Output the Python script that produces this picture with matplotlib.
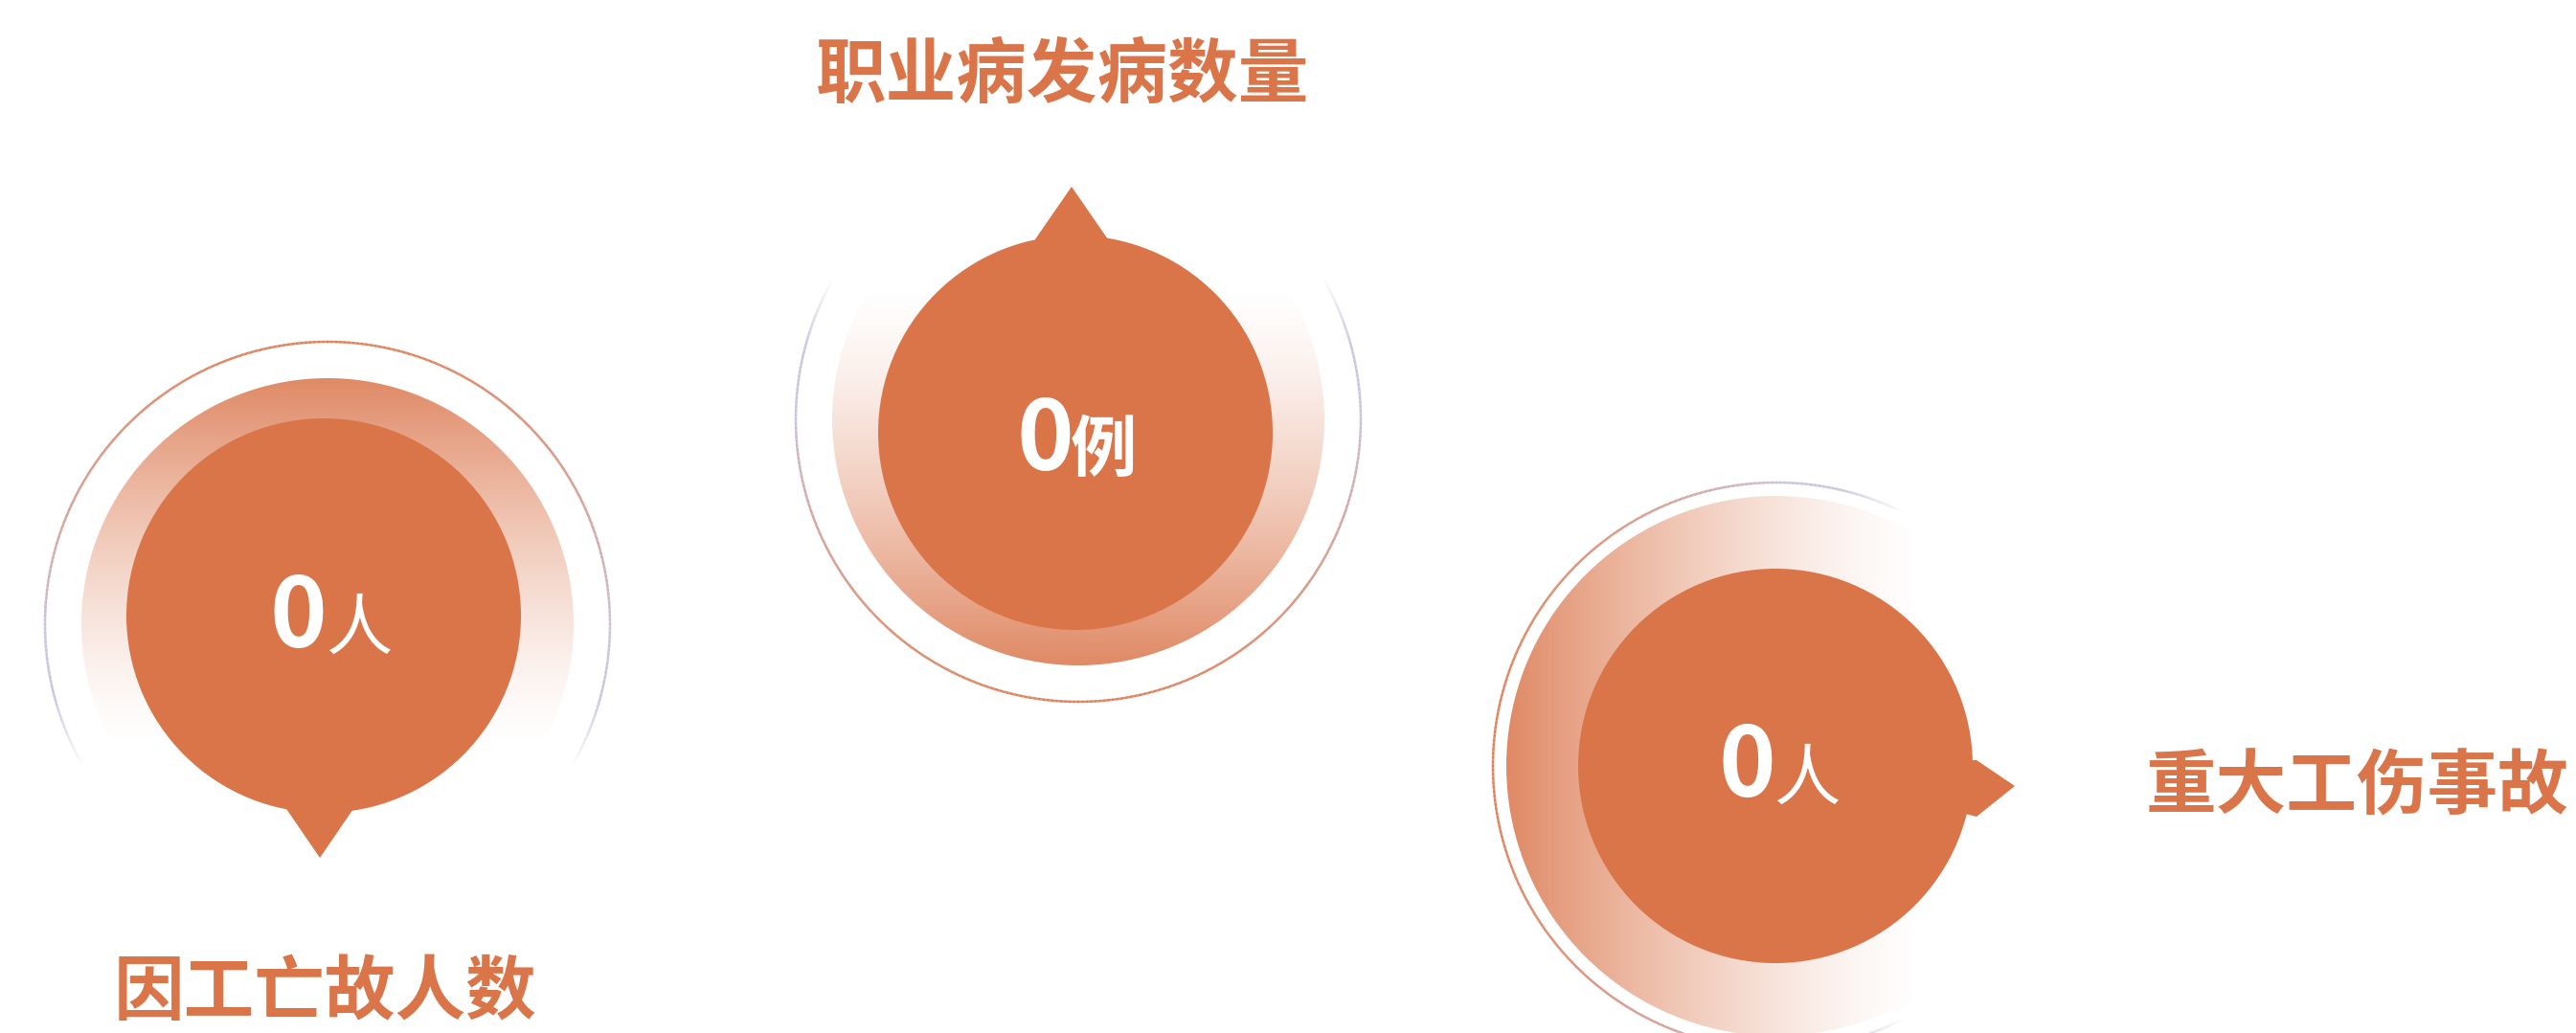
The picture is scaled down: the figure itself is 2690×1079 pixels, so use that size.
import numpy as np
import matplotlib
matplotlib.use('Agg')
import matplotlib.pyplot as plt
from matplotlib.patches import Circle, Polygon
from matplotlib.collections import LineCollection
from matplotlib.colors import to_rgb
from matplotlib.font_manager import FontProperties

# ---------------- data ----------------
categories = ['因工亡故人数', '职业病发病数量', '重大工伤事故']
values = [0, 0, 0]
units = ['人', '例', '人']

# ---------------- layout (pixels, y downward) ----------------
W, H = 2690, 1079
inner_centers = [(338, 643), (1123, 452), (1854, 800)]
inner_r = 206
ring_centers = [(342, 652), (1126, 438), (1855, 800)]
grad_r = [257, 257, 282]
outer_r = [295, 295, 296]
dense_dir = [(0, -1), (0, 1), (-1, 0)]
grad_s0 = [-0.5, -0.55, -0.55]
ring_fade = [-0.38, -0.38, -0.33]
ptr_tip = [(334, 896), (1119, 195), (2104, 821)]
ptr_base = [((295, 839), (373, 839)), ((1081, 250), (1157, 250)), ((2064, 794), (2064, 853))]
label_pos = [(340, 1059), (1110, 101), (2462, 844)]
num_pos = [(311, 676), (1091, 491), (1824, 832)]
unit_pos = [(375, 678), (1152, 492), (1887, 835)]
unit_weight = ['medium', 'bold', 'medium']

ORANGE = '#DA7449'
LAVENDER = '#C4BEDC'
CJK = 'Noto Sans CJK SC'

fig = plt.figure(figsize=(W / 100, H / 100), dpi=100)
fig.patch.set_facecolor('white')
ax = fig.add_axes([0, 0, 1, 1])
ax.axis('off')

orange_rgb = np.array(to_rgb(ORANGE))
lav_rgb = np.array(to_rgb(LAVENDER))


def gradient_disk(cx, cy, r, d, s0, amax=0.85, gamma=1.4):
    x0, x1 = int(cx - r - 3), int(cx + r + 4)
    y0, y1 = int(cy - r - 3), int(cy + r + 4)
    xs = np.arange(x0, x1) + 0.5
    ys = np.arange(y0, y1) + 0.5
    X, Y = np.meshgrid(xs, ys)
    dist = np.hypot(X - cx, Y - cy)
    edge = np.clip(r - dist + 0.5, 0, 1)
    s = ((X - cx) * d[0] + (Y - cy) * d[1]) / r
    a = amax * np.clip((s - s0) / (1 - s0), 0, 1) ** gamma
    rgba = np.zeros(X.shape + (4,))
    rgba[..., :3] = orange_rgb
    rgba[..., 3] = a * edge
    ax.imshow(rgba, extent=(x0, x1, y1, y0), origin='upper',
              interpolation='nearest', zorder=1)


def outer_ring(cx, cy, R, d, fade):
    th = np.linspace(0, 2 * np.pi, 1441)
    px = cx + R * np.cos(th)
    py = cy + R * np.sin(th)
    pts = np.column_stack([px, py])
    segs = np.stack([pts[:-1], pts[1:]], axis=1)
    tm = 0.5 * (th[:-1] + th[1:])
    s = np.cos(tm) * d[0] + np.sin(tm) * d[1]
    w = np.clip(s, 0, 1) ** 0.7
    cols = np.zeros((len(tm), 4))
    cols[:, :3] = w[:, None] * orange_rgb + (1 - w[:, None]) * lav_rgb
    cols[:, 3] = 0.95 * np.clip((s - (fade - 0.12)) / 0.24, 0, 1)
    lc = LineCollection(segs, colors=cols, linewidths=1.8, zorder=2,
                        capstyle='butt')
    ax.add_collection(lc)


fp_num = FontProperties(family=CJK, weight='bold', size=73)
fp_label = FontProperties(family=CJK, weight='bold', size=53)

for i in range(len(categories)):
    rcx, rcy = ring_centers[i]
    gradient_disk(rcx, rcy, grad_r[i], dense_dir[i], grad_s0[i])
    outer_ring(rcx, rcy, outer_r[i], dense_dir[i], ring_fade[i])

    icx, icy = inner_centers[i]
    c = np.array([icx, icy], dtype=float)
    ax.add_patch(Circle((icx, icy), inner_r, facecolor=ORANGE,
                        edgecolor='none', zorder=3))
    tip = np.array(ptr_tip[i], dtype=float)
    b1 = np.array(ptr_base[i][0], dtype=float)
    b2 = np.array(ptr_base[i][1], dtype=float)
    i1 = b1 + (c - b1) * 0.15
    i2 = b2 + (c - b2) * 0.15
    ax.add_patch(Polygon([tip, b1, i1, i2, b2], closed=True,
                         facecolor=ORANGE, edgecolor='none', zorder=3))

    fp_unit = FontProperties(family=CJK, weight=unit_weight[i], size=50)
    ax.text(num_pos[i][0], num_pos[i][1], str(values[i]), color='white',
            fontproperties=fp_num, ha='center', va='baseline', zorder=5)
    ax.text(unit_pos[i][0], unit_pos[i][1], units[i], color='white',
            fontproperties=fp_unit, ha='center', va='baseline', zorder=5)
    ax.text(label_pos[i][0], label_pos[i][1], categories[i], color=ORANGE,
            fontproperties=fp_label, ha='center', va='baseline', zorder=5)

ax.set_aspect('auto')
ax.set_xlim(0, W)
ax.set_ylim(H, 0)
fig.savefig('out.png', dpi=100, facecolor='white')
